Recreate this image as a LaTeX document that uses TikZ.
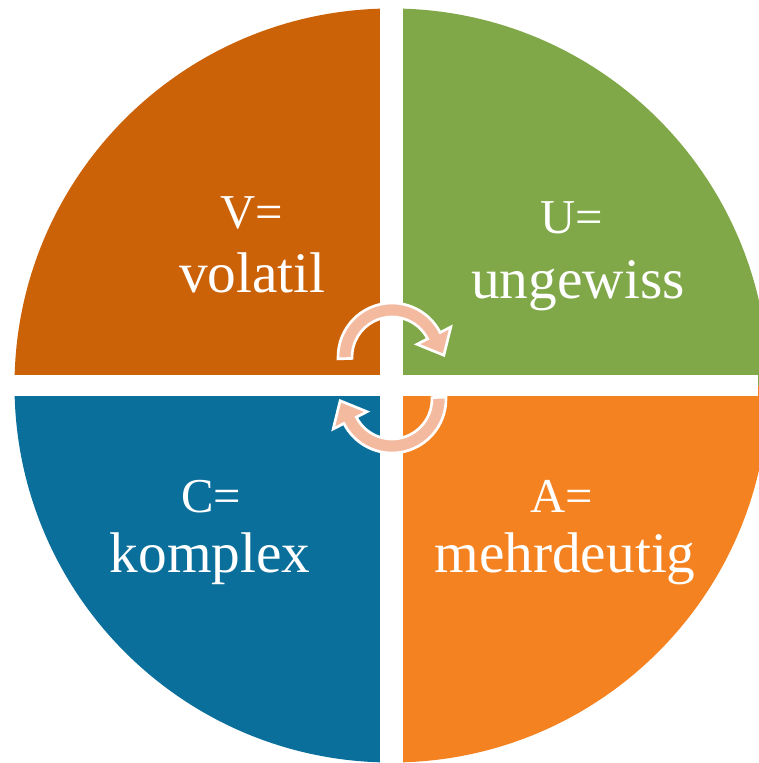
\documentclass[tikz,border=0pt]{standalone}
\usepackage{fontspec}
\setmainfont{Liberation Serif}
\usetikzlibrary{calc}
\definecolor{volcol}{HTML}{CC6208}
\definecolor{unccol}{HTML}{80A748}
\definecolor{cpxcol}{HTML}{0B6F9C}
\definecolor{ambcol}{HTML}{F58220}
\definecolor{cyccol}{HTML}{F4BAA0}

\begin{document}
\begin{tikzpicture}[
    x=0.75pt,
    y=0.75pt,
    head/.style={
        text=white,
        anchor=base,
        font=\fontsize{36.5}{40}\selectfont
    },
    word/.style={
        text=white,
        anchor=base,
        font=\fontsize{43}{48}\selectfont
    },
    cyc/.style={
        fill=cyccol,
        draw=white,
        line width=2pt
    }
]
\useasboundingbox (0,0) rectangle (758,-763);

% quarters of the disc
\coordinate (mid) at (391.5,-385.5);
\fill[volcol] (mid) -- ++(180:377) arc[start angle=180,end angle=90,radius=377] -- cycle;
\fill[unccol] (mid) -- ++(90:377) arc[start angle=90,end angle=0,radius=377] -- cycle;
\fill[ambcol] (mid) -- ++(0:377) arc[start angle=0,end angle=-90,radius=377] -- cycle;
\fill[cpxcol] (mid) -- ++(-90:377) arc[start angle=-90,end angle=-180,radius=377] -- cycle;

% gaps
\fill[white] (380,0) rectangle (403,-763);
\fill[white] (0,-375) rectangle (758,-396);

% cycle arrows
\coordinate (upper) at (392,-357);
\coordinate (lower) at (392,-399);
\filldraw[cyc] ($(upper)+(182:54)$) arc[start angle=182,end angle=27,radius=54]
    -- ($(upper)+(27:66)$) -- ($(upper)+(27:47)+(-63:22)$) -- ($(upper)+(27:28)$)
    -- ($(upper)+(27:40)$) arc[start angle=27,end angle=182,radius=40] -- cycle;
\filldraw[cyc] ($(lower)+(2:54)$) arc[start angle=2,end angle=-153,radius=54]
    -- ($(lower)+(-153:66)$) -- ($(lower)+(-153:47)+(117:22)$) -- ($(lower)+(-153:28)$)
    -- ($(lower)+(-153:40)$) arc[start angle=-153,end angle=2,radius=40] -- cycle;

% labels
\node[head] (vol) at (252,-228) {V=};
\node[word] (volw) at (252.5,-292) {volatil};
\node[head] (unc) at (572,-233) {U=};
\node[word] (uncw) at (578,-298) {ungewiss};
\node[head] (cpx) at (211,-512) {C=};
\node[word] (cpxw) at (210,-572) {komplex};
\node[head] (amb) at (562,-512) {A=};
\node[word] (ambw) at (565,-572) {mehrdeutig};

\end{tikzpicture}
\end{document}
